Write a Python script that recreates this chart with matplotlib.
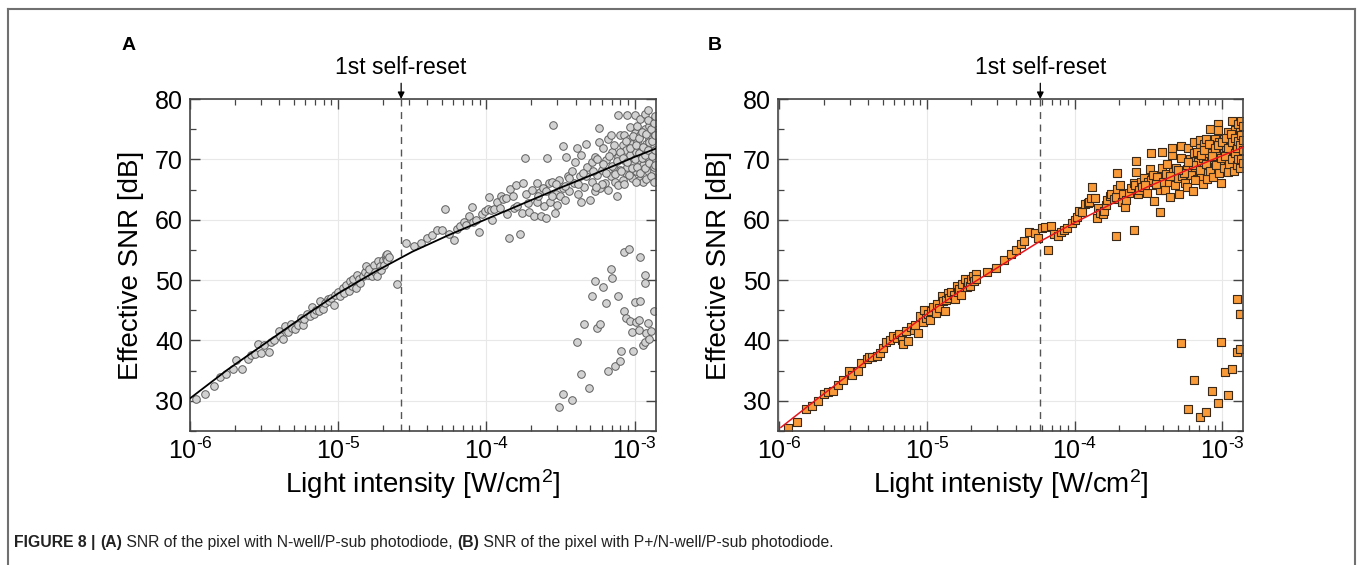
import numpy as np
import matplotlib
matplotlib.use('Agg')
from matplotlib import pyplot as plt
from matplotlib.lines import Line2D
from matplotlib.ticker import MultipleLocator, LogLocator, NullFormatter, FuncFormatter

plt.rcParams['font.family'] = ['Liberation Sans', 'DejaVu Sans']
plt.rcParams['mathtext.fontset'] = 'custom'
plt.rcParams['mathtext.rm'] = 'Liberation Sans'
plt.rcParams['mathtext.it'] = 'Liberation Sans:italic'
plt.rcParams['mathtext.bf'] = 'Liberation Sans:bold'

# ---- panel A (N-well/P-sub), intensities as log10(W/cm2) ----
a_log_i = [
    -5.96, -5.90, -5.84, -5.80, -5.76, -5.71, -5.69, -5.65, -5.61, -5.59,
    -5.56, -5.54, -5.52, -5.50, -5.47, -5.45, -5.43, -5.40, -5.39, -5.37,
    -5.36, -5.34, -5.32, -5.31, -5.29, -5.27, -5.25, -5.24, -5.23, -5.21,
    -5.19, -5.18, -5.16, -5.15, -5.13, -5.12, -5.10, -5.09, -5.07, -5.06,
    -5.05, -5.03, -5.02, -5.00, -4.99, -4.97, -4.96, -4.95, -4.93, -4.92,
    -4.91, -4.90, -4.88, -4.87, -4.86, -4.85, -4.83, -4.82, -4.81, -4.80,
    -4.79, -4.77, -4.76, -4.75, -4.74, -4.73, -4.72, -4.71, -4.70, -4.69,
    -4.68, -4.68, -4.67, -4.67, -4.66, -4.60, -4.54, -4.49, -4.44,
    -4.40, -4.37, -4.33, -4.30, -4.28, -4.25, -4.22, -4.20, -4.18, -4.15,
    -4.14, -4.12, -4.10, -4.09, -4.07, -4.05, -4.03, -4.01, -3.99, -3.98,
    -3.97, -3.96, -3.95, -3.93, -3.91, -3.90, -3.89, -3.87, -3.86, -3.85,
    -3.84, -3.82, -3.81, -3.80, -3.79, -3.77, -3.76, -3.75, -3.74, -3.73,
    -3.72, -3.71, -3.69, -3.68, -3.66, -3.66, -3.64, -3.63, -3.62, -3.61,
    -3.60, -3.59, -3.58, -3.57, -3.56, -3.55, -3.54, -3.53, -3.52, -3.51,
    -3.50, -3.48, -3.48, -3.47, -3.46, -3.45, -3.44, -3.42, -3.41, -3.40,
    -3.39, -3.38, -3.37, -3.36, -3.36, -3.34, -3.33, -3.33, -3.32, -3.30,
    -3.29, -3.29, -3.27, -3.27, -3.25, -3.24, -3.24, -3.23, -3.22, -3.21,
    -3.20, -3.19, -3.18, -3.16, -3.16, -3.15, -3.14, -3.13, -3.12, -3.11,
    -3.11, -3.10, -3.10, -3.08, -3.08, -3.07, -3.07, -3.06, -3.06, -3.05,
    -3.05, -3.04, -3.03, -3.03, -3.02, -3.02, -3.01, -3.00, -3.00, -2.99,
    -2.99, -2.98, -2.98, -2.97, -2.97, -2.96, -2.96, -2.95, -2.94, -2.94,
    -2.93, -2.93, -2.92, -2.92, -2.91, -2.91, -2.90, -2.90, -2.89, -2.89,
    -2.88, -2.88, -2.87, -2.87, -2.87, -2.87,
    -3.22, -3.21, -3.19, -3.18, -3.17, -3.15, -3.14, -3.13, -3.12, -3.11,
    -3.10, -3.09, -3.08, -3.07, -3.06, -3.05, -3.04, -3.03, -3.02, -3.01,
    -3.00, -2.99, -2.99, -2.98, -2.97, -2.97, -2.96, -2.95, -2.95, -2.94,
    -2.93, -2.93, -2.92, -2.92, -2.91, -2.91, -2.90, -2.90, -2.89, -2.89,
    -2.88, -2.88, -2.87, -2.87, -2.87, -2.86, -2.86, -2.86, -2.86, -3.28,
    -3.26, -3.25, -3.35, -3.38, -3.44, -3.47, -3.53, -3.56, -3.60, -3.65,
]
a_snr = [
    30.3, 31.1, 32.5, 34.0, 34.5, 35.3, 36.7, 35.3, 36.9, 37.6,
    37.8, 39.4, 38.0, 39.3, 38.1, 39.7, 40.1, 41.6, 40.8, 40.3,
    42.4, 41.4, 42.7, 42.0, 41.9, 42.6, 43.8, 42.6, 43.6, 44.3,
    44.1, 45.5, 44.3, 45.1, 44.9, 46.6, 45.2, 46.2, 46.9, 46.6,
    47.1, 45.9, 47.6, 48.1, 47.3, 48.7, 47.8, 49.2, 48.2, 49.8,
    49.0, 50.1, 48.7, 50.9, 50.1, 49.5, 50.6, 51.4, 52.4, 50.9,
    51.9, 50.6, 52.5, 51.4, 50.6, 53.1, 52.3, 51.7, 53.3, 52.5,
    53.6, 54.1, 54.3, 53.4, 53.8, 49.3, 56.2, 55.6, 56.2,
    56.9, 57.5, 58.3, 58.3, 61.7, 57.7, 56.6, 58.4, 59.0, 59.7,
    59.2, 60.6, 62.1, 59.7, 59.9, 57.9, 60.9, 61.4, 61.7, 63.8,
    61.6, 59.9, 61.7, 63.0, 62.0, 64.0, 63.5, 63.6, 61.0, 56.9,
    65.1, 63.9, 62.0, 65.8, 62.2, 57.7, 61.1, 66.1, 70.3, 64.2,
    62.8, 61.3, 65.0, 60.7, 66.1, 63.0, 64.6, 60.6, 65.2, 62.2,
    60.3, 70.3, 66.1, 63.0, 66.3, 75.7, 61.1, 64.2, 62.5, 66.6,
    64.0, 65.2, 72.2, 63.2, 70.4, 67.2, 64.7, 68.0, 66.1, 69.6,
    71.8, 64.2, 67.2, 70.7, 63.0, 65.5, 72.5, 67.2, 68.8, 63.3,
    66.3, 69.6, 64.7, 70.4, 67.4, 72.9, 75.2, 65.2, 68.3, 71.8,
    66.1, 69.9, 73.4, 67.2, 74.0, 71.3, 68.5, 66.3, 63.9, 70.4,
    77.4, 68.3, 74.0, 72.3, 66.6, 69.9, 74.0, 67.8, 71.5, 77.4,
    68.8, 73.4, 75.4, 70.7, 66.9, 72.6, 69.3, 77.4, 74.3, 71.3,
    68.0, 75.6, 72.9, 69.9, 66.6, 76.7, 74.0, 71.5, 69.1, 66.3,
    77.5, 75.1, 72.6, 70.4, 68.0, 78.1, 75.6, 73.4, 71.3, 69.1,
    67.2, 76.4, 74.5, 72.3, 70.2, 68.0,
    66.0, 69.2, 67.8, 65.0, 70.6, 68.9, 72.4, 67.5, 69.8, 65.8,
    71.2, 68.1, 70.3, 66.0, 73.0, 69.6, 67.4, 71.9, 68.6, 73.8,
    70.0, 66.3, 72.4, 68.8, 71.0, 73.5, 67.8, 70.3, 74.6, 72.0,
    68.6, 70.8, 74.2, 66.8, 71.6, 76.6, 69.4, 72.8, 67.3, 75.0,
    70.6, 73.0, 68.7, 76.0, 66.3, 71.5, 74.0, 69.0, 77.2, 68.0,
    65.5, 70.0, 67.8, 66.0, 66.9, 65.6, 66.0, 63.9, 64.8, 64.0,
]
# low-SNR outliers near saturation
a_low_log_i = [
    -3.51, -3.48, -3.42, -3.39, -3.36, -3.34, -3.31, -3.29, -3.27, -3.25,
    -3.23, -3.21, -3.19, -3.18, -3.16, -3.15, -3.13, -3.11, -3.10, -3.09,
    -3.07, -3.07, -3.06, -3.04, -3.03, -3.02, -3.01, -3.00, -2.99, -2.97,
    -2.97, -2.96, -2.96, -2.94, -2.93, -2.93, -2.93, -2.92, -2.91, -2.90,
    -2.89, -2.87,
]
a_low_snr = [
    29.0, 31.1, 30.2, 39.8, 34.5, 42.8, 32.2, 47.4, 49.8, 42.1,
    42.8, 48.9, 46.2, 34.9, 51.9, 50.3, 35.8, 47.3, 36.6, 38.2,
    54.6, 44.9, 43.8, 55.1, 43.3, 41.4, 38.2, 46.3, 43.1, 41.7,
    43.4, 53.9, 46.6, 39.3, 39.8, 49.5, 50.8, 41.2, 42.9, 40.2,
    41.5, 44.9,
]
a_fit_log_i = [-6.0, -5.75, -5.5, -5.25, -5.0, -4.75, -4.5, -4.25, -4.0, -3.75, -3.5, -3.25, -3.0, -2.855]
a_fit_snr = [30.4, 35.1, 39.4, 43.7, 47.8, 51.4, 54.7, 57.5, 60.1, 62.7, 65.3, 67.8, 70.4, 71.8]
a_reset = -4.575

# ---- panel B (P+/N-well/P-sub) ----
b_log_i = [
    -5.94, -5.88, -5.82, -5.78, -5.74, -5.70, -5.67, -5.64, -5.60, -5.57,
    -5.53, -5.51, -5.47, -5.45, -5.41, -5.39, -5.37, -5.34, -5.32, -5.30,
    -5.28, -5.25, -5.23, -5.20, -5.19, -5.17, -5.16, -5.14, -5.13, -5.11,
    -5.09, -5.08, -5.06, -5.05, -5.03, -5.02, -5.01, -4.99, -4.98, -4.97,
    -4.96, -4.94, -4.93, -4.92, -4.90, -4.89, -4.88, -4.87, -4.86, -4.85,
    -4.84, -4.82, -4.81, -4.80, -4.79, -4.78, -4.77, -4.76, -4.74, -4.73,
    -4.72, -4.71, -4.70, -4.69, -4.68, -4.67, -4.67, -4.59, -4.53, -4.48,
    -4.43, -4.40, -4.36, -4.34, -4.31, -4.27, -4.25, -4.22, -4.20, -4.18,
    -4.16, -4.14, -4.11, -4.09, -4.07, -4.05, -4.02, -4.00, -3.98, -3.97,
    -3.95, -3.93, -3.91, -3.90, -3.89, -3.88, -3.86, -3.85, -3.84, -3.83,
    -3.81, -3.80, -3.79, -3.78, -3.76, -3.75, -3.73, -3.72, -3.72, -3.71,
    -3.71, -3.69, -3.68, -3.67, -3.66, -3.65, -3.63, -3.62, -3.60, -3.60,
    -3.59, -3.58, -3.58, -3.57, -3.56, -3.55, -3.54, -3.53, -3.51, -3.50,
    -3.49, -3.48, -3.48, -3.47, -3.46, -3.45, -3.44, -3.42, -3.42, -3.41,
    -3.41, -3.40, -3.39, -3.38, -3.37, -3.36, -3.35, -3.34, -3.34, -3.33,
    -3.32, -3.31, -3.30, -3.29, -3.28, -3.28, -3.27, -3.25, -3.24, -3.24,
    -3.23, -3.22, -3.21, -3.20, -3.19, -3.19, -3.18, -3.17, -3.16, -3.15,
    -3.15, -3.14, -3.13, -3.12, -3.12, -3.11, -3.10, -3.10, -3.08, -3.08,
    -3.07, -3.07, -3.06, -3.05, -3.05, -3.04, -3.03, -3.03, -3.02, -3.02,
    -3.01, -3.00, -2.99, -2.99, -2.98, -2.97, -2.96, -2.96, -2.95, -2.94,
    -2.94, -2.93, -2.93, -2.92, -2.92, -2.91, -2.90, -2.90, -2.89, -2.89,
    -2.88, -2.88, -2.87, -2.87, -2.86,
    -3.20, -3.18, -3.17, -3.15, -3.14, -3.13, -3.12, -3.11, -3.10, -3.09,
    -3.08, -3.07, -3.06, -3.05, -3.04, -3.03, -3.02, -3.01, -3.00, -2.99,
    -2.98, -2.97, -2.96, -2.96, -2.95, -2.94, -2.93, -2.93, -2.92, -2.91,
    -2.91, -2.90, -2.90, -2.89, -2.89, -2.88, -2.88, -2.87, -2.87, -2.86,
    -2.86, -2.86, -2.86, -3.26, -3.23, -3.30, -3.35, -3.45, -3.52,
]
b_snr = [
    25.5, 26.5, 28.7, 29.2, 29.9, 31.2, 31.5, 31.6, 32.7, 33.4,
    34.9, 34.2, 35.0, 36.2, 36.9, 37.2, 37.3, 37.5, 37.9, 38.7,
    39.7, 40.1, 40.7, 40.4, 41.0, 40.1, 39.4, 41.5, 39.9, 42.3,
    41.8, 42.6, 41.2, 44.0, 43.0, 45.1, 43.7, 44.3, 43.4, 44.9,
    45.6, 44.5, 46.0, 45.4, 47.3, 46.5, 44.9, 46.7, 47.8, 47.0,
    48.1, 47.6, 46.9, 49.0, 48.1, 48.6, 47.6, 49.3, 50.1, 48.8,
    49.7, 49.0, 50.2, 50.6, 49.8, 51.0, 50.2, 51.4, 52.0, 53.4,
    54.4, 55.0, 56.0, 56.5, 58.0, 57.8, 57.0, 58.6, 58.8, 55.0,
    58.9, 57.7, 57.3, 57.9, 58.3, 58.6, 59.5, 59.9, 60.4, 61.4,
    61.2, 62.6, 62.8, 63.0, 63.6, 65.5, 63.6, 60.3, 62.0, 61.1,
    61.0, 61.4, 62.5, 63.2, 63.9, 64.2, 63.5, 63.7, 57.3, 65.1,
    67.7, 65.8, 63.0, 64.2, 62.1, 63.3, 64.4, 65.2, 66.1, 58.3,
    65.8, 69.8, 67.9, 64.3, 65.0, 66.2, 65.5, 66.9, 64.5, 66.2,
    68.4, 71.1, 66.6, 67.4, 63.1, 65.7, 67.0, 65.0, 61.3, 68.5,
    71.3, 66.3, 65.0, 67.5, 69.3, 66.2, 63.7, 70.7, 71.8, 67.9,
    65.8, 68.5, 66.9, 64.3, 72.2, 70.2, 67.2, 66.1, 68.4, 65.4,
    71.9, 70.0, 67.4, 64.8, 71.0, 72.9, 68.8, 66.8, 69.6, 71.8,
    73.2, 67.0, 70.2, 68.5, 72.5, 73.4, 67.7, 71.0, 69.3, 75.1,
    72.5, 68.3, 70.4, 73.4, 68.8, 71.5, 75.9, 74.8, 69.9, 72.9,
    66.1, 69.1, 71.0, 73.4, 68.3, 72.1, 74.5, 69.6, 71.3, 68.3,
    73.4, 76.3, 68.9, 72.2, 70.4, 74.8, 69.6, 73.4, 75.9, 71.5,
    69.9, 74.5, 76.4, 72.3, 70.7,
    69.0, 66.5, 71.2, 68.2, 70.8, 66.0, 71.6, 69.2, 66.8, 72.6,
    68.0, 70.6, 67.0, 71.9, 69.0, 72.4, 67.8, 70.2, 72.8, 68.6,
    70.6, 73.6, 67.9, 71.8, 69.2, 74.2, 70.0, 72.8, 68.0, 71.0,
    73.6, 69.0, 71.8, 73.0, 70.0, 68.6, 72.4, 70.0, 74.0, 71.6,
    69.4, 73.2, 75.6, 67.8, 69.5, 68.2, 67.2, 66.0, 65.8,
]
b_low_log_i = [-3.28, -3.23, -3.19, -3.15, -3.11, -3.07, -3.03, -3.01, -2.98,
               -2.96, -2.93, -2.90, -2.90, -2.88, -2.88]
b_low_snr = [39.5, 28.6, 33.5, 27.4, 28.1, 31.7, 29.6, 39.7, 34.8,
             31.0, 35.2, 46.8, 38.1, 44.3, 38.6]
b_fit_log_i = [-5.99, -5.75, -5.5, -5.25, -5.0, -4.75, -4.5, -4.25, -4.0, -3.75, -3.5, -3.25, -3.0, -2.858]
b_fit_snr = [25.6, 30.2, 34.9, 39.7, 44.4, 48.6, 52.4, 56.2, 59.5, 62.6, 65.5, 68.1, 70.6, 72.0]
b_reset = -4.232

FIG_W, FIG_H = 1358, 565


def decade_label(val, pos):
    # 10^-n with a short hyphen, like the original figure
    exp = int(round(np.log10(val)))
    return r'$\mathdefault{10^{\text{-}%d}}$' % (-exp)


def setup_axes(ax, xmax_log, xmin_log, xlabel):
    ax.set_xscale('log')
    ax.set_xlim(10 ** xmin_log, 10 ** xmax_log)
    ax.set_ylim(25, 80)
    ax.yaxis.set_major_locator(MultipleLocator(10))
    ax.yaxis.set_minor_locator(MultipleLocator(5))
    ax.xaxis.set_major_locator(LogLocator(base=10, numticks=10))
    ax.xaxis.set_major_formatter(FuncFormatter(decade_label))
    ax.xaxis.set_minor_locator(LogLocator(base=10, subs=np.arange(2, 10), numticks=20))
    ax.xaxis.set_minor_formatter(NullFormatter())
    ax.tick_params(which='both', direction='in', top=True, right=True,
                   color='#444444')
    ax.tick_params(which='major', length=7, width=1.0, labelsize=18, pad=5)
    ax.tick_params(which='minor', length=4, width=0.9)
    ax.grid(True, which='major', color='#e8e8e8', lw=0.8)
    ax.set_axisbelow(True)
    for sp in ax.spines.values():
        sp.set_color('#444444')
        sp.set_linewidth(1.2)
    ax.set_ylabel('Effective SNR [dB]', fontsize=20, labelpad=8)
    ax.set_xlabel(xlabel, fontsize=20, labelpad=2)


def reset_marker(ax, xlog):
    x = 10 ** xlog
    ax.axvline(x, color='#555555', lw=1.0, ls=(0, (5, 4)), zorder=1)
    ax.annotate('1st self-reset', xy=(x, 1.0), xycoords=('data', 'axes fraction'),
                xytext=(x, 1.06), textcoords=('data', 'axes fraction'),
                ha='center', va='bottom', fontsize=16.5,
                arrowprops=dict(arrowstyle='-|>', color='k', lw=0.9,
                                shrinkA=1, shrinkB=0, mutation_scale=10))


fig = plt.figure(figsize=(FIG_W / 100, FIG_H / 100), dpi=100)
ax_a = fig.add_axes([190 / FIG_W, 1 - 431 / FIG_H, 466 / FIG_W, 332 / FIG_H])
ax_b = fig.add_axes([778 / FIG_W, 1 - 431 / FIG_H, 465 / FIG_W, 332 / FIG_H])

# panel A
setup_axes(ax_a, -2.855, -6.0, 'Light intensity [W/cm$^2$]')
ax_a.scatter(10 ** np.array(a_log_i), a_snr, s=30, marker='o',
             facecolor='#d2d2d2', edgecolor='#5e5e5e', linewidths=0.7, zorder=2)
ax_a.scatter(10 ** np.array(a_low_log_i), a_low_snr, s=30, marker='o',
             facecolor='#d2d2d2', edgecolor='#5e5e5e', linewidths=0.7, zorder=2)
ax_a.plot(10 ** np.array(a_fit_log_i), a_fit_snr, color='black', lw=1.3, zorder=3)
reset_marker(ax_a, a_reset)

# panel B
setup_axes(ax_b, -2.858, -6.01, 'Light intenisty [W/cm$^2$]')
ax_b.scatter(10 ** np.array(b_log_i), b_snr, s=26, marker='s',
             facecolor='#f89a38', edgecolor='#3b2a1a', linewidths=0.8, zorder=2)
ax_b.scatter(10 ** np.array(b_low_log_i), b_low_snr, s=26, marker='s',
             facecolor='#f89a38', edgecolor='#3b2a1a', linewidths=0.8, zorder=2)
ax_b.plot(10 ** np.array(b_fit_log_i), b_fit_snr, color='#e8141c', lw=1.1, zorder=3)
reset_marker(ax_b, b_reset)

# panel letters
fig.text(122 / FIG_W, 1 - 45 / FIG_H, 'A', fontsize=14, fontweight='bold', va='center')
fig.text(708 / FIG_W, 1 - 45 / FIG_H, 'B', fontsize=14, fontweight='bold', va='center')

# frame around the figure (open at the bottom)
frame_col = '#707070'
fig.add_artist(Line2D([8 / FIG_W, 8 / FIG_W], [0, 1 - 9 / FIG_H], color=frame_col, lw=1.5,
                      transform=fig.transFigure))
fig.add_artist(Line2D([8 / FIG_W, 1355 / FIG_W], [1 - 9 / FIG_H, 1 - 9 / FIG_H],
                      color=frame_col, lw=1.5, transform=fig.transFigure))
fig.add_artist(Line2D([1355 / FIG_W, 1355 / FIG_W], [0, 1 - 9 / FIG_H], color=frame_col,
                      lw=1.5, transform=fig.transFigure))

# caption, built from bold and regular pieces
pieces = [
    ('FIGURE 8 | ', 'bold'),
    ('(A)', 'bold'),
    (' SNR of the pixel with N-well/P-sub photodiode, ', 'normal'),
    ('(B)', 'bold'),
    (' SNR of the pixel with P+/N-well/P-sub photodiode.', 'normal'),
]
cap_size = 11.3
prev = fig.text(14 / FIG_W, 1 - 550 / FIG_H, pieces[0][0], fontsize=cap_size,
                fontweight=pieces[0][1], va='bottom', ha='left', color='#222222')
for txt, wt in pieces[1:]:
    prev = fig.add_artist(plt.Annotation(txt, xy=(1, 0), xycoords=prev, va='bottom',
                                         ha='left', fontsize=cap_size, fontweight=wt,
                                         color='#222222', annotation_clip=False))

fig.savefig('out.png', dpi=100)
